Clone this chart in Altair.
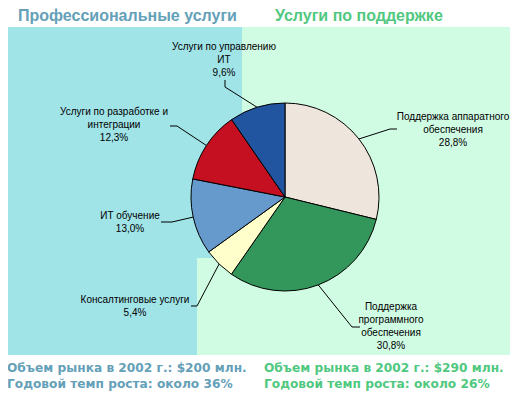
import math
import altair as alt
import pandas as pd

# ---- data ----
segments = ["Поддержка аппаратного обеспечения", "Поддержка программного обеспечения",
            "Консалтинговые услуги", "ИТ обучение", "Услуги по разработке и интеграции",
            "Услуги по управлению ИТ"]
shares = [28.8, 30.8, 5.4, 13.0, 12.3, 9.6]
share_text = ["28,8%", "30,8%", "5,4%", "13,0%", "12,3%", "9,6%"]
label_lines = [
    ["Поддержка аппаратного", "обеспечения"],
    ["Поддержка", "программного", "обеспечения"],
    ["Консалтинговые услуги"],
    ["ИТ обучение"],
    ["Услуги по разработке и", "интеграции"],
    ["Услуги по управлению", "ИТ"],
]
titles = ["Профессиональные услуги", "Услуги по поддержке"]
notes_left = ["Объем рынка в 2002 г.: $200 млн.", "Годовой темп роста: около 36%"]
notes_right = ["Объем рынка в 2002 г.: $290 млн.", "Годовой темп роста: около 26%"]

# ---- styles / layout (page px, converted to view px by -8) ----
slice_colors = ["#EEE6DC", "#33965A", "#FFFFCC", "#6699CC", "#C41020", "#2255A0"]
CYAN, MINT = "#A0E4E8", "#D0FCE4"
TEAL_TXT, GREEN_TXT = "#64A0B8", "#50C880"
OFF = 8
CX, CY, R = 285 - OFF, 197 - OFF, 94
label_center_x = [453, 391, 135, 130, 114, 224]
label_top_y = [117, 307, 300, 216, 112, 47]
line_step = 13
leader_mid = [(390, 129), (352, 327), (197, 306), (172, 222), (177, 126), (225, 87)]
leader_end = [(397, 129), (360, 327), (191, 306), (161, 222), (170, 126), (225, 80)]

W, H = 502, 383

pie_df = pd.DataFrame({"seg": segments, "v": shares, "i": list(range(len(shares)))})

# labels
rows = []
for k, lines in enumerate(label_lines):
    allines = lines + [share_text[k]]
    for j, t in enumerate(allines):
        rows.append({"t": t, "x": label_center_x[k] - OFF,
                     "y": label_top_y[k] - OFF + j * line_step})
lab_df = pd.DataFrame(rows)

# leader lines from slice mid-angle
total = sum(shares)
cum = 0
lrows = []
for k, v in enumerate(shares):
    mid = (cum + v / 2) / total * 2 * math.pi
    cum += v
    ex, ey = CX + R * math.sin(mid), CY - R * math.cos(mid)
    pts = [(ex, ey), (leader_mid[k][0] - OFF, leader_mid[k][1] - OFF),
           (leader_end[k][0] - OFF, leader_end[k][1] - OFF)]
    for o, (px, py) in enumerate(pts):
        lrows.append({"k": k, "o": o, "x": px, "y": py})
lead_df = pd.DataFrame(lrows)

bg_df = pd.DataFrame([
    {"x": 6 - OFF, "x2": 242 - OFF, "y": 27 - OFF, "y2": 258 - OFF, "c": CYAN},
    {"x": 6 - OFF, "x2": 197 - OFF, "y": 258 - OFF, "y2": 355 - OFF, "c": CYAN},
    {"x": 242 - OFF, "x2": 516 - OFF, "y": 27 - OFF, "y2": 355 - OFF, "c": MINT},
    {"x": 197 - OFF, "x2": 242 - OFF, "y": 258 - OFF, "y2": 355 - OFF, "c": MINT},
])

txt_df = pd.DataFrame([
    {"t": titles[0], "x": 18 - OFF, "y": 20.5 - OFF, "c": TEAL_TXT, "s": "title"},
    {"t": titles[1], "x": 275 - OFF, "y": 20.5 - OFF, "c": GREEN_TXT, "s": "title"},
    {"t": notes_left[0], "x": 7 - OFF, "y": 368 - OFF, "c": TEAL_TXT, "s": "note"},
    {"t": notes_left[1], "x": 7 - OFF, "y": 384 - OFF, "c": TEAL_TXT, "s": "note"},
    {"t": notes_right[0], "x": 264 - OFF, "y": 368 - OFF, "c": GREEN_TXT, "s": "note"},
    {"t": notes_right[1], "x": 264 - OFF, "y": 384 - OFF, "c": GREEN_TXT, "s": "note"},
])

bg = alt.Chart(bg_df).mark_rect().encode(
    x=alt.X("x:Q", scale=None), x2="x2:Q",
    y=alt.Y("y:Q", scale=None), y2="y2:Q",
    color=alt.Color("c:N", scale=None),
)

pie = alt.Chart(pie_df).mark_arc(radius=R, stroke="black", strokeWidth=1).encode(
    theta=alt.Theta("v:Q", stack=True),
    color=alt.Color("seg:N", scale=alt.Scale(domain=segments, range=slice_colors), legend=None),
    order=alt.Order("i:Q"),
    x=alt.value(CX), y=alt.value(CY),
)

leads = alt.Chart(lead_df).mark_line(color="black", strokeWidth=1).encode(
    x=alt.X("x:Q", scale=None), y=alt.Y("y:Q", scale=None),
    detail="k:N", order="o:Q",
)

labels = alt.Chart(lab_df).mark_text(font="Liberation Sans", fontSize=10, color="black",
                                     align="center", baseline="middle").encode(
    x=alt.X("x:Q", scale=None), y=alt.Y("y:Q", scale=None), text="t:N")

titles_l = alt.Chart(txt_df[txt_df.s == "title"]).mark_text(
    font="Liberation Sans", fontSize=16, fontWeight="bold", align="left", baseline="alphabetic").encode(
    x=alt.X("x:Q", scale=None), y=alt.Y("y:Q", scale=None), text="t:N",
    color=alt.Color("c:N", scale=None))

notes_l = alt.Chart(txt_df[txt_df.s == "note"]).mark_text(
    font="DejaVu Sans", fontSize=12.2, fontWeight="bold", align="left", baseline="middle").encode(
    x=alt.X("x:Q", scale=None), y=alt.Y("y:Q", scale=None), text="t:N",
    color=alt.Color("c:N", scale=None))

chart = alt.layer(bg, pie, leads, labels, titles_l, notes_l).properties(
    width=W, height=H, padding=0, autosize="none"
).configure_view(stroke=None)

chart.save("out.html", embed_options={"renderer": "svg", "actions": False})
